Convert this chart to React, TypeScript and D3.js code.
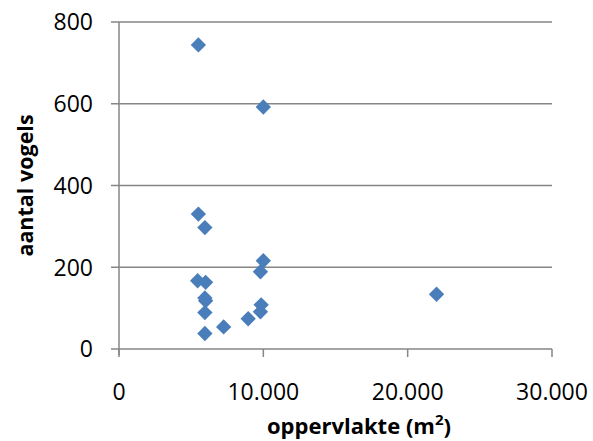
import React from "react";
import * as d3 from "d3";

const areas = [5500, 10000, 5500, 5950, 10000, 9800, 5450, 6000, 5950, 6000, 5950, 5950, 7250, 8950, 9850, 9800, 22000];
const birds = [744, 592, 330, 297, 216, 189, 167, 163, 125, 118, 89, 38, 54, 74, 108, 91, 134];
const xTicks = [0, 10000, 20000, 30000];
const yTicks = [0, 200, 400, 600, 800];

const W = 593, H = 441;
const L = 119, R = 552, T = 22, B = 349;

export default function App() {
  const x = d3.scaleLinear().domain([0, 30000]).range([L, R]);
  const y = d3.scaleLinear().domain([0, 800]).range([B, T]);
  const fmt = (v: number) => d3.format(",")(v).replace(/,/g, ".");
  const sym = d3.symbol().type(d3.symbolDiamond2).size(150)();
  const font = "'Open Sans', sans-serif";
  return (
    <svg width={W} height={H} style={{ position: "absolute", left: 0, top: 0 }}>
      <rect width={W} height={H} fill="#fff" />
      {yTicks.map((t) => (
        <g key={t}>
          <line x1={L - 8} x2={R} y1={y(t)} y2={y(t)} stroke="#868686" strokeWidth={1.5} />
          <text x={93} y={y(t)} dy="0.36em" textAnchor="end" fontSize={23} fontFamily={font} fill="#000">{t}</text>
        </g>
      ))}
      <line x1={L} x2={L} y1={T} y2={B + 6} stroke="#868686" strokeWidth={1.5} />
      {xTicks.map((t) => (
        <g key={t}>
          <line x1={x(t)} x2={x(t)} y1={B} y2={B + 8} stroke="#868686" strokeWidth={1.5} />
          <text x={x(t)} y={399.5} textAnchor="middle" fontSize={23} fontFamily={font} fill="#000">{fmt(t)}</text>
        </g>
      ))}
      {areas.map((a, i) => (
        <path key={i} d={sym!} transform={`translate(${x(a)},${y(birds[i])})`} fill="#4a7ebb" />
      ))}
      <text x={359} y={434} textAnchor="middle" fontSize={22} fontWeight="bold" fontFamily={font} fill="#000">
        oppervlakte (m<tspan dy="-9" fontSize={15}>2</tspan><tspan dy="9">)</tspan>
      </text>
      <text transform={`translate(33,${(T + B) / 2}) rotate(-90)`} textAnchor="middle" fontSize={21.5} fontWeight="bold" fontFamily={font} fill="#000">aantal vogels</text>
    </svg>
  );
}
